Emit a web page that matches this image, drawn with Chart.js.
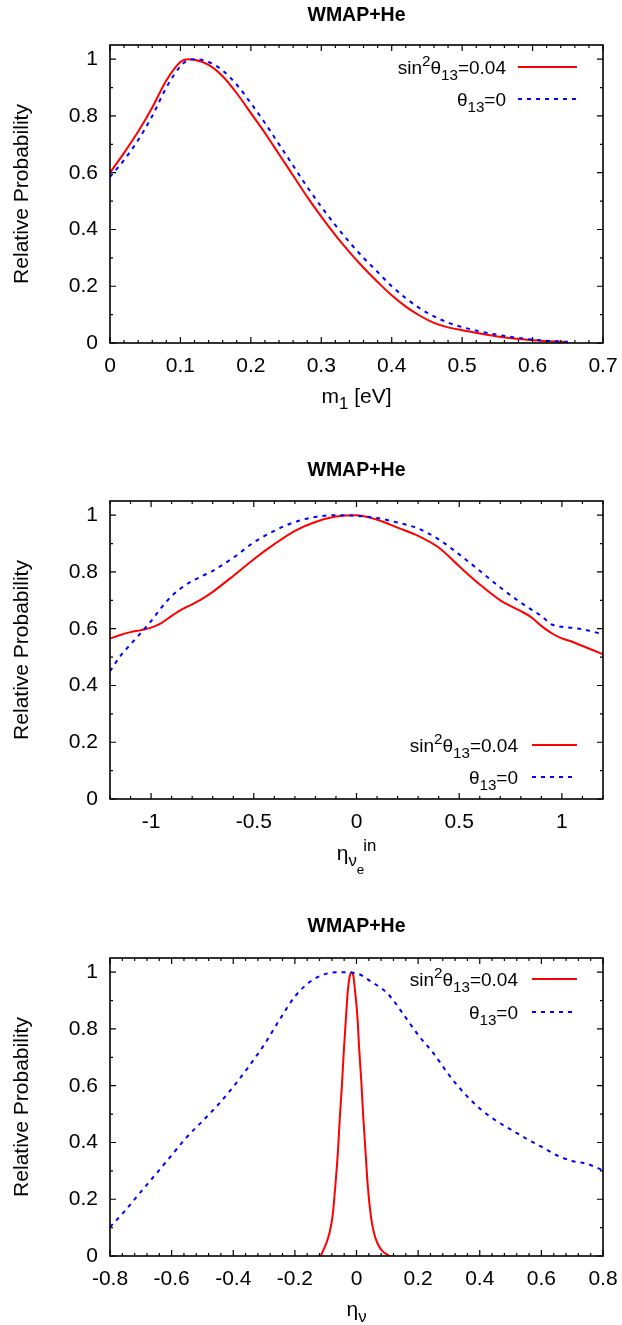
<!DOCTYPE html>
<html><head><meta charset="utf-8">
<script src="https://cdn.jsdelivr.net/npm/chart.js@4.4.0/dist/chart.umd.min.js"></script>
<style>
html,body{margin:0;padding:0;background:#fff;}
#wrap{position:relative;width:622px;height:1325px;overflow:hidden;}
canvas{position:absolute;left:0;}
</style></head><body>
<div id="wrap">
<canvas id="c1" width="622" height="430" style="top:0px"></canvas>
<canvas id="c2" width="622" height="450" style="top:430px"></canvas>
<canvas id="c3" width="622" height="445" style="top:880px"></canvas>
</div>
<script>
// ---------- DATA ----------
const chartTitle = 'WMAP+He';
const yAxisTitle = 'Relative Probability';
const yTicks = [0, 0.2, 0.4, 0.6, 0.8, 1];
const yTickLabels = ['0', '0.2', '0.4', '0.6', '0.8', '1'];

// Panel 1: m1 [eV]
const m1X = [0, 0.02, 0.04, 0.06, 0.08, 0.1, 0.11, 0.12, 0.14, 0.16, 0.18, 0.2, 0.22, 0.24, 0.26, 0.28, 0.3, 0.32, 0.34, 0.36, 0.38, 0.4, 0.42, 0.44, 0.46, 0.48, 0.5, 0.55, 0.6, 0.65];
const m1Sin = [0.60, 0.67, 0.745, 0.83, 0.925, 0.99, 1.0, 0.998, 0.98, 0.94, 0.88, 0.81, 0.74, 0.665, 0.59, 0.515, 0.445, 0.38, 0.32, 0.265, 0.215, 0.168, 0.128, 0.096, 0.071, 0.055, 0.045, 0.023, 0.01, 0.003];
const m1Zero = [0.585, 0.645, 0.715, 0.80, 0.90, 0.975, 0.995, 1.0, 0.99, 0.96, 0.91, 0.845, 0.775, 0.70, 0.625, 0.55, 0.48, 0.415, 0.355, 0.30, 0.25, 0.20, 0.158, 0.122, 0.094, 0.072, 0.056, 0.029, 0.012, 0.004];
const m1XTicks = [0, 0.1, 0.2, 0.3, 0.4, 0.5, 0.6, 0.7];
const m1XTickLabels = ['0', '0.1', '0.2', '0.3', '0.4', '0.5', '0.6', '0.7'];

// Panel 2: eta_nu_e^in
const etaInX = [-1.2, -1.15, -1.1, -1.05, -1.0, -0.95, -0.9, -0.85, -0.8, -0.75, -0.7, -0.6, -0.5, -0.4, -0.3, -0.2, -0.1, 0, 0.1, 0.2, 0.3, 0.4, 0.5, 0.6, 0.7, 0.8, 0.85, 0.9, 0.95, 1.0, 1.05, 1.1, 1.15, 1.2];
const etaInSin = [0.565, 0.578, 0.588, 0.595, 0.604, 0.62, 0.645, 0.668, 0.686, 0.706, 0.73, 0.786, 0.845, 0.898, 0.945, 0.976, 0.995, 1.0, 0.984, 0.956, 0.927, 0.886, 0.82, 0.756, 0.70, 0.662, 0.641, 0.61, 0.584, 0.566, 0.554, 0.539, 0.525, 0.51];
const etaInZero = [0.45, 0.503, 0.545, 0.585, 0.627, 0.674, 0.715, 0.745, 0.768, 0.786, 0.804, 0.85, 0.904, 0.945, 0.976, 0.994, 1.0, 0.998, 0.99, 0.974, 0.953, 0.915, 0.862, 0.804, 0.745, 0.692, 0.668, 0.645, 0.615, 0.607, 0.603, 0.598, 0.59, 0.58];
const etaInXTicks = [-1, -0.5, 0, 0.5, 1];
const etaInXTickLabels = ['-1', '-0.5', '0', '0.5', '1'];

// Panel 3: eta_nu
const etaZeroX = [-0.8, -0.75, -0.7, -0.65, -0.6, -0.55, -0.5, -0.45, -0.4, -0.35, -0.3, -0.25, -0.2, -0.15, -0.1, -0.05, 0, 0.05, 0.1, 0.15, 0.2, 0.25, 0.3, 0.35, 0.4, 0.45, 0.5, 0.55, 0.6, 0.65, 0.7, 0.75, 0.8];
const etaZero = [0.102, 0.161, 0.226, 0.29, 0.355, 0.42, 0.475, 0.532, 0.596, 0.667, 0.744, 0.832, 0.914, 0.967, 0.994, 1.0, 0.996, 0.965, 0.926, 0.855, 0.779, 0.714, 0.638, 0.573, 0.52, 0.479, 0.446, 0.414, 0.385, 0.355, 0.335, 0.324, 0.302];
const etaSinX = [-0.116, -0.108, -0.098, -0.088, -0.078, -0.068, -0.060, -0.054, -0.047, -0.041, -0.034, -0.028, -0.022, -0.016, -0.010, -0.005, 0.003, 0.009, 0.016, 0.022, 0.029, 0.036, 0.047, 0.057, 0.068, 0.082, 0.107];
const etaSin = [0, 0.02, 0.045, 0.08, 0.138, 0.256, 0.373, 0.49, 0.608, 0.725, 0.843, 0.937, 0.985, 1.0, 0.985, 0.937, 0.843, 0.725, 0.608, 0.49, 0.373, 0.256, 0.138, 0.08, 0.045, 0.02, 0];
const etaXTicks = [-0.8, -0.6, -0.4, -0.2, 0, 0.2, 0.4, 0.6, 0.8];
const etaXTickLabels = ['-0.8', '-0.6', '-0.4', '-0.2', '0', '0.2', '0.4', '0.6', '0.8'];

// Legend / axis label texts as rich runs: [text, level, dx]
const legendSin = [['sin', 0], ['2', -1], ['θ', 0], ['13', 1], ['=0.04', 0]];
const legendZero = [['θ', 0], ['13', 1], ['=0', 0]];
const xTitleM1 = [['m', 0], ['1', 1], [' [eV]', 0]];
const xTitleEtaIn = [['η', 0], ['ν', 1], ['e', 2], ['in', -1, -1]];
const xTitleEta = [['η', 0], ['ν', 1]];

// ---------- DRAWING ----------
const FONT = '"Liberation Sans", Arial, Helvetica, sans-serif';
const FS = 21;      // tick labels, axis titles
const FSL = 19;     // legend text
const LV = { '0': { s: 1, dy: 0 }, '1': { s: 0.8, dy: 0.3 }, '-1': { s: 0.8, dy: -0.42 }, '2': { s: 0.64, dy: 0.66 } };
function runFont(lv, F) { return (F * LV[lv].s).toFixed(1) + 'px ' + FONT; }
function richWidth(ctx, runs, F) {
  let w = 0;
  for (const r of runs) { ctx.font = runFont(r[1], F); w += ctx.measureText(r[0]).width + (r[2] || 0); }
  return w;
}
function drawRich(ctx, runs, x, y, align, F) {
  const w = richWidth(ctx, runs, F);
  let cx = align === 'center' ? x - w / 2 : (align === 'right' ? x - w : x);
  ctx.textAlign = 'left'; ctx.textBaseline = 'alphabetic';
  for (const r of runs) {
    ctx.font = runFont(r[1], F);
    cx += (r[2] || 0);
    ctx.fillText(r[0], cx, y + LV[r[1]].dy * F);
    cx += ctx.measureText(r[0]).width;
  }
}
function pts(xs, ys) { return xs.map((x, i) => ({ x: x, y: ys[i] })); }

function decor(cfg) {
  return {
    id: 'decor',
    afterDraw(chart) {
      const ctx = chart.ctx, a = chart.chartArea, xs = chart.scales.x, ys = chart.scales.y;
      ctx.save();
      ctx.strokeStyle = '#000';
      ctx.lineWidth = 1.2;
      ctx.beginPath();
      const nx = Math.round((cfg.xMax - cfg.xMin) / cfg.xMinor);
      for (let i = 0; i <= nx; i++) {
        const v = cfg.xMin + i * cfg.xMinor;
        const isMajor = cfg.xTicks.some(t => Math.abs(t - v) < 1e-9);
        const len = isMajor ? 6 : 3;
        const px = xs.getPixelForValue(v);
        ctx.moveTo(px, a.bottom); ctx.lineTo(px, a.bottom - len);
        ctx.moveTo(px, a.top); ctx.lineTo(px, a.top + len);
      }
      const ny = Math.round(1.0 / 0.1);
      for (let i = 0; i <= ny; i++) {
        const v = i * 0.1;
        const isMajor = yTicks.some(t => Math.abs(t - v) < 1e-9);
        const len = isMajor ? 6 : 3;
        const py = ys.getPixelForValue(v);
        ctx.moveTo(a.left, py); ctx.lineTo(a.left + len, py);
        ctx.moveTo(a.right, py); ctx.lineTo(a.right - len, py);
      }
      ctx.stroke();
      ctx.lineWidth = 1.6;
      ctx.strokeRect(a.left, a.top, a.right - a.left, a.bottom - a.top);

      ctx.fillStyle = '#000';
      ctx.font = 'bold 19.5px ' + FONT;
      ctx.textAlign = 'center'; ctx.textBaseline = 'alphabetic';
      ctx.fillText(chartTitle, (a.left + a.right) / 2, cfg.titleY);
      ctx.save();
      ctx.translate(22, (a.top + a.bottom) / 2);
      ctx.rotate(-Math.PI / 2);
      ctx.font = FS + 'px ' + FONT;
      ctx.textAlign = 'center'; ctx.textBaseline = 'middle';
      ctx.fillText(yAxisTitle, 0, 0);
      ctx.restore();
      drawRich(ctx, cfg.xTitle, (a.left + a.right) / 2, cfg.xTitleY, 'center', FS);
      const rows = [{ runs: legendSin, color: '#ff0000', dash: [] }, { runs: legendZero, color: '#0000ff', dash: [4, 5] }];
      rows.forEach((r, i) => {
        const y = cfg.legRows[i];
        ctx.fillStyle = '#000';
        drawRich(ctx, r.runs, cfg.legTextRight, y + 6.8, 'right', FSL);
        ctx.beginPath();
        ctx.strokeStyle = r.color; ctx.lineWidth = 2; ctx.setLineDash(r.dash);
        ctx.moveTo(cfg.legLine[0], y); ctx.lineTo(cfg.legLine[1], y);
        ctx.stroke();
        ctx.setLineDash([]);
      });
      ctx.restore();
    }
  };
}

function makeChart(id, cfg) {
  const ctx = document.getElementById(id).getContext('2d');
  return new Chart(ctx, {
    type: 'line',
    data: {
      datasets: [
        { label: 'sin2theta13=0.04', data: pts(cfg.sinX, cfg.sinY), borderColor: '#ff0000', borderWidth: 2, pointRadius: 0, fill: false, cubicInterpolationMode: 'monotone', order: 2 },
        { label: 'theta13=0', data: pts(cfg.zeroX, cfg.zeroY), borderColor: '#0000ff', borderWidth: 2, borderDash: [4, 5], pointRadius: 0, fill: false, cubicInterpolationMode: 'monotone', order: 1 }
      ]
    },
    options: {
      responsive: false, animation: false, events: [],
      layout: { padding: { left: 0, right: 19, top: cfg.padTop, bottom: cfg.padBottom } },
      plugins: { legend: { display: false }, tooltip: { enabled: false }, title: { display: false } },
      scales: {
        x: {
          type: 'linear', min: cfg.xMin, max: cfg.xMax,
          grid: { display: false, drawTicks: false }, border: { display: false },
          afterBuildTicks: s => { s.ticks = cfg.xTicks.map(v => ({ value: v })); },
          afterFit: s => { s.height = 40; s.paddingLeft = 0; s.paddingRight = 0; },
          ticks: { autoSkip: false, maxRotation: 0, minRotation: 0, padding: 11, color: '#000', font: { family: FONT, size: FS }, callback: (v, i) => cfg.xLabels[i] }
        },
        y: {
          type: 'linear', min: 0, max: 1.05,
          grid: { display: false, drawTicks: false }, border: { display: false },
          afterBuildTicks: s => { s.ticks = yTicks.map(v => ({ value: v })); },
          afterFit: s => { s.width = 110; s.paddingTop = 0; s.paddingBottom = 0; },
          ticks: { autoSkip: false, padding: 12, color: '#000', font: { family: FONT, size: FS }, callback: (v, i) => yTickLabels[i] }
        }
      }
    },
    plugins: [decor(cfg)]
  });
}

makeChart('c1', {
  sinX: m1X, sinY: m1Sin, zeroX: m1X, zeroY: m1Zero,
  xMin: 0, xMax: 0.7, xTicks: m1XTicks, xLabels: m1XTickLabels, xMinor: 0.02,
  padTop: 45, padBottom: 47,
  titleY: 20.5, xTitle: xTitleM1, xTitleY: 403,
  legRows: [67, 99], legTextRight: 506, legLine: [518, 577]
});
makeChart('c2', {
  sinX: etaInX, sinY: etaInSin, zeroX: etaInX, zeroY: etaInZero,
  xMin: -1.2, xMax: 1.2, xTicks: etaInXTicks, xLabels: etaInXTickLabels, xMinor: 0.1,
  padTop: 71, padBottom: 41,
  titleY: 46, xTitle: xTitleEtaIn, xTitleY: 430,
  legRows: [315, 347], legTextRight: 518, legLine: [532, 577]
});
makeChart('c3', {
  sinX: etaSinX, sinY: etaSin, zeroX: etaZeroX, zeroY: etaZero,
  xMin: -0.8, xMax: 0.8, xTicks: etaXTicks, xLabels: etaXTickLabels, xMinor: 0.04,
  padTop: 78, padBottom: 29,
  titleY: 51.7, xTitle: xTitleEta, xTitleY: 436,
  legRows: [99, 132], legTextRight: 518, legLine: [532, 577]
});
</script>
</body></html>
